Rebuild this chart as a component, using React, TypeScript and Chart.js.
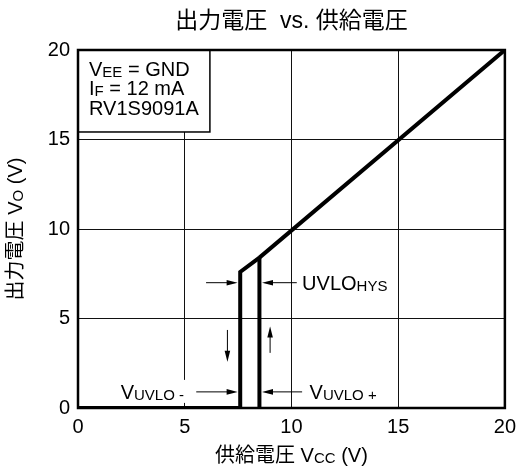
import React, { useEffect, useRef } from 'react';
import { Chart, registerables } from 'chart.js';

Chart.register(...registerables);

// ---- data ----
const xTickValues = [0, 5, 10, 15, 20];
const yTickValues = [0, 5, 10, 15, 20];
// falling branch + common line (Vcc, Vo)
const outputCurveVcc = [0, 7.6, 7.6, 8.5, 20];
const outputCurveVo = [0, 0, 7.6, 8.4, 20];
// rising edge at VUVLO+
const riseEdgeVcc = [8.5, 8.5];
const riseEdgeVo = [0, 8.4];

const chartTitle = '出力電圧  vs. 供給電圧';
const xTitleParts: [string, boolean][] = [['供給電圧 V', false], ['CC', true], [' (V)', false]];
const yTitleParts: [string, boolean][] = [['出力電圧 V', false], ['O', true], [' (V)', false]];
const noteLines: [string, boolean][][] = [
  [['V', false], ['EE', true], [' = GND', false]],
  [['I', false], ['F', true], [' = 12 mA', false]],
  [['RV1S9091A', false]],
];
const hysLabel: [string, boolean][] = [['UVLO', false], ['HYS', true]];
const uvloMinusLabel: [string, boolean][] = [['V', false], ['UVLO -', true]];
const uvloPlusLabel: [string, boolean][] = [['V', false], ['UVLO +', true]];

// ---- annotation placement (data units) ----
const NOTE_BOX = { x0: 0, x1: 6.18, y0: 20, y1: 15.42 };
const HYS_Y = 7.0;
const HYS_LEFT_ARROW = { from: 6.0, to: 7.48 };
const HYS_RIGHT_ARROW = { from: 10.25, to: 8.62 };
const HYS_LABEL_X = 10.5;
const DOWN_ARROW = { x: 7.0, from: 4.36, to: 2.59 };
const UP_ARROW = { x: 9.0, from: 3.08, to: 4.55 };
const THRESH_Y = 0.9;
const UVLO_MINUS_ARROW = { from: 5.54, to: 7.48 };
const UVLO_PLUS_ARROW = { from: 10.5, to: 8.62 };
const UVLO_MINUS_LABEL_X = 2.0;
const UVLO_PLUS_LABEL_X = 10.85;

const FAMILY = '"Liberation Sans", "Noto Sans CJK JP", Arial, sans-serif';
const fontStr = (s: number) => `${s}px ${FAMILY}`;

function richWidth(ctx: CanvasRenderingContext2D, parts: [string, boolean][], main: number, sub: number) {
  let w = 0;
  for (const [t, s] of parts) {
    ctx.font = fontStr(s ? sub : main);
    w += ctx.measureText(t).width;
  }
  return w;
}

function drawRich(
  ctx: CanvasRenderingContext2D,
  parts: [string, boolean][],
  x: number,
  baseline: number,
  main: number,
  sub: number,
  align: 'left' | 'center'
) {
  const w = richWidth(ctx, parts, main, sub);
  let cx = align === 'center' ? x - w / 2 : x;
  ctx.textAlign = 'left';
  ctx.textBaseline = 'alphabetic';
  for (const [t, s] of parts) {
    ctx.font = fontStr(s ? sub : main);
    ctx.fillText(t, cx, baseline + (s ? 1 : 0));
    cx += ctx.measureText(t).width;
  }
  return w;
}

function arrow(ctx: CanvasRenderingContext2D, x1: number, y1: number, x2: number, y2: number) {
  const dx = x2 - x1;
  const dy = y2 - y1;
  const len = Math.hypot(dx, dy);
  const ux = dx / len;
  const uy = dy / len;
  const head = 11;
  const half = 2.8;
  ctx.lineWidth = 1;
  ctx.beginPath();
  ctx.moveTo(x1, y1);
  ctx.lineTo(x2 - ux * head * 0.8, y2 - uy * head * 0.8);
  ctx.stroke();
  ctx.beginPath();
  ctx.moveTo(x2, y2);
  ctx.lineTo(x2 - ux * head - uy * half, y2 - uy * head + ux * half);
  ctx.lineTo(x2 - ux * head + uy * half, y2 - uy * head - ux * half);
  ctx.closePath();
  ctx.fill();
}

const annotationPlugin = {
  id: 'annotations',
  afterDatasetsDraw(chart: any) {
    const { ctx, chartArea: a, scales } = chart;
    const xs = scales.x;
    const ys = scales.y;
    const px = (v: number) => xs.getPixelForValue(v);
    const py = (v: number) => ys.getPixelForValue(v);
    ctx.save();
    ctx.fillStyle = '#000';
    ctx.strokeStyle = '#000';

    // note box
    const bx0 = px(NOTE_BOX.x0);
    const bx1 = px(NOTE_BOX.x1);
    const by0 = py(NOTE_BOX.y0);
    const by1 = py(NOTE_BOX.y1);
    ctx.fillStyle = '#fff';
    ctx.fillRect(bx0, by0, bx1 - bx0, by1 - by0);
    ctx.lineWidth = 1.5;
    ctx.strokeRect(bx0, by0, bx1 - bx0, by1 - by0);
    ctx.fillStyle = '#000';
    const baselines = [25.5, 45, 64.5];
    noteLines.forEach((parts, i) => drawRich(ctx, parts, bx0 + 11, by0 + baselines[i], 20, 15, 'left'));

    // hysteresis arrows and label
    const hy = py(HYS_Y);
    arrow(ctx, px(HYS_LEFT_ARROW.from), hy, px(HYS_LEFT_ARROW.to), hy);
    arrow(ctx, px(HYS_RIGHT_ARROW.from), hy, px(HYS_RIGHT_ARROW.to), hy);
    drawRich(ctx, hysLabel, px(HYS_LABEL_X), hy + 7, 20, 15, 'left');

    // direction arrows
    arrow(ctx, px(DOWN_ARROW.x), py(DOWN_ARROW.from), px(DOWN_ARROW.x), py(DOWN_ARROW.to));
    arrow(ctx, px(UP_ARROW.x), py(UP_ARROW.from), px(UP_ARROW.x), py(UP_ARROW.to));

    // threshold labels
    const ty = py(THRESH_Y);
    const wMinus = richWidth(ctx, uvloMinusLabel, 20, 15);
    ctx.fillStyle = '#fff';
    ctx.fillRect(px(UVLO_MINUS_LABEL_X) - 4, ty - 12, wMinus + 10, 23);
    ctx.fillStyle = '#000';
    drawRich(ctx, uvloMinusLabel, px(UVLO_MINUS_LABEL_X), ty + 7, 20, 15, 'left');
    arrow(ctx, px(UVLO_MINUS_ARROW.from), ty, px(UVLO_MINUS_ARROW.to), ty);
    arrow(ctx, px(UVLO_PLUS_ARROW.from), ty, px(UVLO_PLUS_ARROW.to), ty);
    drawRich(ctx, uvloPlusLabel, px(UVLO_PLUS_LABEL_X), ty + 7, 20, 15, 'left');

    // plot frame
    ctx.lineWidth = 2.5;
    ctx.strokeRect(a.left, a.top, a.right - a.left, a.bottom - a.top);
    ctx.restore();
  },
  afterDraw(chart: any) {
    const { ctx, chartArea: a } = chart;
    const cx = (a.left + a.right) / 2;
    const cy = (a.top + a.bottom) / 2;
    ctx.save();
    ctx.fillStyle = '#000';
    // title
    ctx.font = fontStr(23);
    ctx.textAlign = 'center';
    ctx.textBaseline = 'middle';
    ctx.fillText(chartTitle, cx, 22);
    // x axis title
    drawRich(ctx, xTitleParts, cx, 462, 20, 15, 'center');
    // y axis title
    ctx.translate(15, cy);
    ctx.rotate(-Math.PI / 2);
    drawRich(ctx, yTitleParts, 0, 7, 20, 15, 'center');
    ctx.restore();
  },
};

export default function App() {
  const ref = useRef<HTMLCanvasElement>(null);
  useEffect(() => {
    const canvas = ref.current;
    if (!canvas) return;
    const lineStyle = {
      borderColor: '#000',
      backgroundColor: '#000',
      borderWidth: 4,
      pointRadius: 0,
      borderJoinStyle: 'miter' as const,
      borderCapStyle: 'butt' as const,
      tension: 0,
      fill: false,
    };
    const chart = new Chart(canvas, {
      type: 'line',
      data: {
        datasets: [
          { ...lineStyle, data: outputCurveVcc.map((x, i) => ({ x, y: outputCurveVo[i] })) },
          { ...lineStyle, data: riseEdgeVcc.map((x, i) => ({ x, y: riseEdgeVo[i] })) },
        ],
      },
      options: {
        animation: false,
        responsive: false,
        devicePixelRatio: 1,
        layout: { padding: { top: 50, right: 12, bottom: 0, left: 0 } },
        plugins: {
          legend: { display: false },
          tooltip: { enabled: false },
          title: { display: false },
        },
        scales: {
          x: {
            type: 'linear',
            min: 0,
            max: 20,
            afterBuildTicks: (s: any) => {
              s.ticks = xTickValues.map((v) => ({ value: v }));
            },
            afterFit: (s: any) => {
              s.height = 67;
            },
            ticks: { font: { family: FAMILY, size: 20 }, color: '#000', padding: 7, maxRotation: 0, autoSkip: false },
            grid: { color: '#111', lineWidth: 1, drawTicks: false },
            border: { display: false },
          },
          y: {
            type: 'linear',
            min: 0,
            max: 20,
            afterBuildTicks: (s: any) => {
              s.ticks = yTickValues.map((v) => ({ value: v }));
            },
            afterFit: (s: any) => {
              s.width = 78;
            },
            ticks: { font: { family: FAMILY, size: 20 }, color: '#000', padding: 8, autoSkip: false },
            grid: { color: '#111', lineWidth: 1, drawTicks: false },
            border: { display: false },
          },
        },
      },
      plugins: [annotationPlugin],
    });
    return () => chart.destroy();
  }, []);
  return (
    <div style={{ position: 'fixed', left: 0, top: 0, width: 523, height: 475, background: '#fff' }}>
      <canvas ref={ref} width={523} height={475} style={{ display: 'block' }} />
    </div>
  );
}
